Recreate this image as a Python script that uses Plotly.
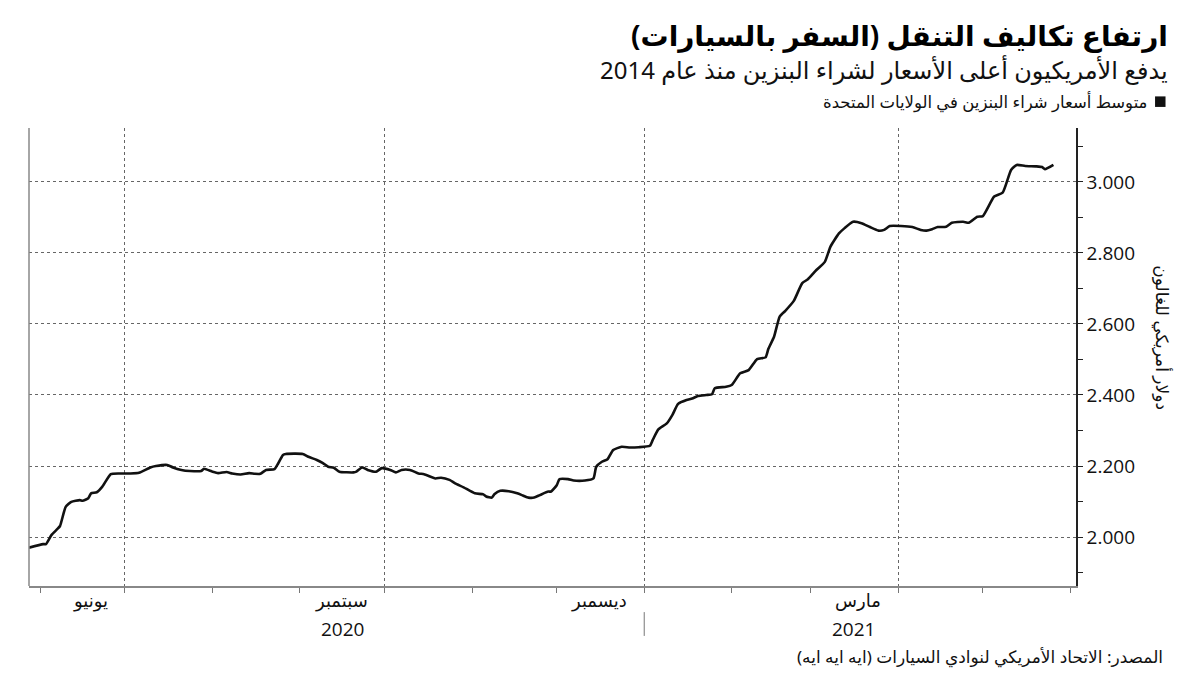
import plotly.graph_objects as go

dates = [
    "2020-05-28", "2020-06-02", "2020-06-03", "2020-06-05", "2020-06-07", "2020-06-08",
    "2020-06-10", "2020-06-12", "2020-06-15", "2020-06-16", "2020-06-18", "2020-06-19",
    "2020-06-21", "2020-06-23", "2020-06-26", "2020-06-29", "2020-07-03", "2020-07-06",
    "2020-07-10", "2020-07-12", "2020-07-16", "2020-07-18", "2020-07-21", "2020-07-24",
    "2020-07-28", "2020-07-29", "2020-08-01", "2020-08-03", "2020-08-06", "2020-08-08",
    "2020-08-11", "2020-08-14", "2020-08-16", "2020-08-18", "2020-08-20", "2020-08-23",
    "2020-08-24", "2020-08-26", "2020-08-27", "2020-09-02", "2020-09-04", "2020-09-07",
    "2020-09-09", "2020-09-11", "2020-09-13", "2020-09-15", "2020-09-20", "2020-09-21",
    "2020-09-23", "2020-09-25", "2020-09-28", "2020-09-30", "2020-10-03", "2020-10-05",
    "2020-10-07", "2020-10-10", "2020-10-13", "2020-10-15", "2020-10-19", "2020-10-21",
    "2020-10-24", "2020-10-26", "2020-10-29", "2020-11-02", "2020-11-05", "2020-11-06",
    "2020-11-08", "2020-11-09", "2020-11-11", "2020-11-14", "2020-11-17", "2020-11-19",
    "2020-11-21", "2020-11-23", "2020-11-25", "2020-11-28", "2020-11-29", "2020-12-01",
    "2020-12-02", "2020-12-05", "2020-12-07", "2020-12-11", "2020-12-14", "2020-12-15",
    "2020-12-17", "2020-12-19", "2020-12-21", "2020-12-24", "2020-12-27", "2020-12-30",
    "2021-01-03", "2021-01-04", "2021-01-06", "2021-01-09", "2021-01-11", "2021-01-13",
    "2021-01-16", "2021-01-18", "2021-01-20", "2021-01-23", "2021-01-25", "2021-01-26",
    "2021-01-30", "2021-02-01", "2021-02-04", "2021-02-07", "2021-02-10", "2021-02-13",
    "2021-02-14", "2021-02-16", "2021-02-18", "2021-02-20", "2021-02-23", "2021-02-26",
    "2021-02-28", "2021-03-03", "2021-03-06", "2021-03-08", "2021-03-11", "2021-03-13",
    "2021-03-16", "2021-03-19", "2021-03-22", "2021-03-25", "2021-03-27", "2021-03-29",
    "2021-04-02", "2021-04-06", "2021-04-09", "2021-04-11", "2021-04-13", "2021-04-15",
    "2021-04-18", "2021-04-20", "2021-04-24", "2021-04-26", "2021-04-29", "2021-05-01",
    "2021-05-05", "2021-05-08", "2021-05-11", "2021-05-13", "2021-05-16", "2021-05-20",
    "2021-05-22", "2021-05-23", "2021-05-26",
]
prices = [
    1.970, 1.980, 1.980, 2.006, 2.022, 2.031,
    2.085, 2.099, 2.104, 2.102, 2.109, 2.123,
    2.126, 2.142, 2.177, 2.179, 2.179, 2.181,
    2.196, 2.200, 2.203, 2.196, 2.189, 2.186,
    2.186, 2.192, 2.184, 2.180, 2.183, 2.179,
    2.176, 2.180, 2.178, 2.178, 2.189, 2.191,
    2.203, 2.231, 2.234, 2.234, 2.226, 2.217,
    2.209, 2.198, 2.195, 2.184, 2.182, 2.184,
    2.196, 2.189, 2.184, 2.194, 2.189, 2.182,
    2.189, 2.189, 2.179, 2.177, 2.165, 2.167,
    2.161, 2.151, 2.140, 2.123, 2.120, 2.114,
    2.111, 2.121, 2.130, 2.129, 2.123, 2.117,
    2.111, 2.111, 2.118, 2.128, 2.128, 2.146,
    2.163, 2.163, 2.159, 2.159, 2.165, 2.198,
    2.212, 2.219, 2.245, 2.254, 2.252, 2.253,
    2.257, 2.273, 2.303, 2.320, 2.344, 2.375,
    2.386, 2.390, 2.397, 2.400, 2.402, 2.419,
    2.423, 2.428, 2.461, 2.470, 2.501, 2.506,
    2.530, 2.564, 2.621, 2.637, 2.665, 2.715,
    2.726, 2.752, 2.775, 2.818, 2.855, 2.870,
    2.888, 2.884, 2.873, 2.863, 2.865, 2.876,
    2.876, 2.873, 2.865, 2.863, 2.867, 2.873,
    2.874, 2.885, 2.888, 2.885, 2.902, 2.904,
    2.959, 2.970, 3.034, 3.048, 3.045, 3.044,
    3.042, 3.036, 3.048,
]

month_labels = ["يونيو", "سبتمبر", "ديسمبر", "مارس"]
month_label_ends = ["2020-07-01", "2020-10-01", "2021-01-01", "2021-04-01"]
year_labels = ["2020", "2021"]
year_label_pos = ["2020-09-16", "2021-03-16"]
year_separator = "2021-01-01"

title = "ارتفاع تكاليف التنقل (السفر بالسيارات)"
subtitle = "يدفع الأمريكيون أعلى الأسعار لشراء البنزين منذ عام 2014"
legend_text = "متوسط أسعار شراء البنزين في الولايات المتحدة"
y_title = "دولار أمريكي للغالون"
source = "المصدر: الاتحاد الأمريكي لنوادي السيارات (ايه ايه ايه)"

FONT = "Noto Sans, DejaVu Sans, sans-serif"

fig = go.Figure()
fig.add_trace(go.Scatter(
    x=dates, y=prices, mode="lines",
    line=dict(color="#111111", width=2.6, shape="spline", smoothing=0.5),
    showlegend=False, hoverinfo="x+y",
))

fig.update_layout(
    width=1200, height=675,
    margin=dict(l=29, r=124, t=128, b=89),
    paper_bgcolor="white", plot_bgcolor="white",
    font=dict(family=FONT, color="#111111"),
    xaxis=dict(
        range=["2020-05-28", "2021-06-03"],
        tick0="2020-07-01", dtick="M3",
        showgrid=True, gridcolor="#666666", griddash="dot", gridwidth=1,
        showticklabels=False,
        ticks="outside", ticklen=5, tickcolor="#777777",
        minor=dict(dtick="M1", tick0="2020-06-01", ticks="outside", ticklen=5,
                   tickcolor="#777777", showgrid=False),
        showline=True, linecolor="#888888", linewidth=1.5,
        zeroline=False,
    ),
    yaxis=dict(
        side="right",
        range=[1.862, 3.152],
        tick0=2.0, dtick=0.2, tickformat=".3f",
        showgrid=True, gridcolor="#666666", griddash="dot", gridwidth=1,
        ticks="outside", ticklen=5, tickcolor="#222222",
        minor=dict(dtick=0.1, tick0=2.0, ticks="outside", ticklen=5,
                   tickcolor="#222222", showgrid=False),
        showline=True, linecolor="#222222", linewidth=1.5,
        tickfont=dict(family="Open Sans, DejaVu Sans", size=19, color="#111111"),
        zeroline=False,
    ),
)

# left plot border
fig.add_shape(type="line", xref="paper", yref="paper", x0=0, x1=0, y0=0, y1=1,
              line=dict(color="#888888", width=1.5))

# month labels (right-aligned just before their month-end gridline)
for lab, d in zip(month_labels, month_label_ends):
    fig.add_annotation(x=d, y=-0.031, xref="x", yref="paper", text=lab,
                       showarrow=False, xanchor="right", yanchor="middle",
                       xshift=-15, font=dict(size=18, family=FONT, color="#111111"))
for lab, d in zip(year_labels, year_label_pos):
    fig.add_annotation(x=d, y=-0.093, xref="x", yref="paper", text=lab,
                       showarrow=False, xanchor="center", yanchor="middle",
                       font=dict(size=19, family="Open Sans, DejaVu Sans", color="#111111"))
fig.add_shape(type="line", xref="x", yref="paper", x0=year_separator, x1=year_separator,
              y0=-0.057, y1=-0.109, line=dict(color="#777777", width=1))

# titles
fig.add_annotation(x=1.0898, y=1.203, xref="paper", yref="paper", text="<b>" + title + "</b>",
                   showarrow=False, xanchor="right", yanchor="middle",
                   font=dict(size=28, family=FONT, color="#000000"))
fig.add_annotation(x=1.0898, y=1.127, xref="paper", yref="paper", text=subtitle,
                   showarrow=False, xanchor="right", yanchor="middle",
                   font=dict(size=24, family=FONT, color="#111111"))
fig.add_annotation(x=1.070, y=1.057, xref="paper", yref="paper", text=legend_text,
                   showarrow=False, xanchor="right", yanchor="middle",
                   font=dict(size=16.5, family=FONT, color="#111111"))
fig.add_shape(type="rect", xref="paper", yref="paper",
              x0=1.0755, x1=1.0855, y0=1.046, y1=1.069,
              fillcolor="#111111", line=dict(width=0))
fig.add_annotation(x=1.083, y=0.541, xref="paper", yref="paper", text=y_title,
                   showarrow=False, textangle=90, xanchor="center", yanchor="middle",
                   font=dict(size=17, family=FONT, color="#111111"))
fig.add_annotation(x=1.085, y=-0.153, xref="paper", yref="paper", text=source,
                   showarrow=False, xanchor="right", yanchor="middle",
                   font=dict(size=17, family=FONT, color="#111111"))

fig.write_html("out.html")
